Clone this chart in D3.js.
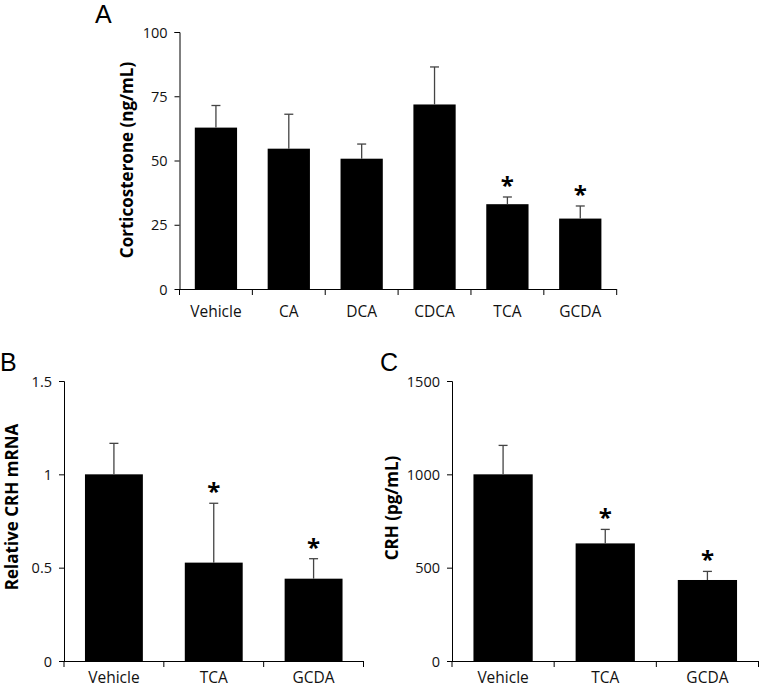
<!DOCTYPE html>
<html><head><meta charset="utf-8">
<script src="https://cdn.jsdelivr.net/npm/d3@7/dist/d3.min.js"></script>
<style>
body{margin:0;background:#fff;}
text{font-family:"Open Sans",sans-serif;}
</style></head>
<body><svg id="c" width="762" height="690"></svg>
<script>
// Panel A
const catsA = ["Vehicle","CA","DCA","CDCA","TCA","GCDA"];
const valsA = [62.8, 54.6, 50.7, 71.8, 33.0, 27.4];
const errA  = [71.4, 68.0, 56.4, 86.4, 35.8, 32.3];
const sigA  = [false,false,false,false,true,true];
const ticksA = [0,25,50,75,100];
// Panel B
const catsB = ["Vehicle","TCA","GCDA"];
const valsB = [1.0, 0.527, 0.441];
const errB  = [1.166, 0.845, 0.548];
const sigB  = [false,true,true];
const ticksB = [0,0.5,1,1.5];
const tickLabelsB = ["0","0.5","1","1.5"];
// Panel C
const catsC = ["Vehicle","TCA","GCDA"];
const valsC = [1000, 630, 434];
const errC  = [1155, 705, 480];
const sigC  = [false,true,true];
const ticksC = [0,500,1000,1500];

const svg = d3.select("#c");

function panel(o){
  const g = svg.append("g");
  const x = d3.scaleBand().domain(o.cats).range([o.x0,o.x1]).paddingInner(0.42).paddingOuter(0.21);
  const y = d3.scaleLinear().domain([0,o.max]).range([o.y0,o.y1]);
  // bars
  g.selectAll("rect.bar").data(o.cats).enter().append("rect")
    .attr("x",d=>x(d)).attr("width",x.bandwidth())
    .attr("y",(d,i)=>y(o.vals[i])).attr("height",(d,i)=>y(0)-y(o.vals[i]))
    .attr("fill","#000");
  // error bars
  o.cats.forEach((c,i)=>{
    const cx = x(c)+x.bandwidth()/2;
    g.append("line").attr("x1",cx).attr("x2",cx).attr("y1",y(o.vals[i])).attr("y2",y(o.err[i]))
      .attr("stroke","#444").attr("stroke-width",1.3);
    g.append("line").attr("x1",cx-4.5).attr("x2",cx+4.5).attr("y1",y(o.err[i])).attr("y2",y(o.err[i]))
      .attr("stroke","#444").attr("stroke-width",1.3);
    if(o.sig[i]){
      g.append("text").attr("x",cx).attr("y",y(o.err[i])-3).attr("text-anchor","middle")
        .attr("font-size",24).attr("font-weight","bold").text("*");
    }
  });
  // y axis
  const ya = d3.axisLeft(y).tickValues(o.ticks).tickSize(5).tickPadding(7)
    .tickFormat((d,i)=>o.tickLabels?o.tickLabels[i]:String(d));
  const yg = g.append("g").attr("transform",`translate(${o.x0},0)`).call(ya);
  yg.selectAll("text").attr("font-size",14.5).attr("fill","#111").attr("dy","0.36em");
  yg.select(".domain").attr("d",`M-5,${o.y1+0.5}H0.5V${o.y0+0.5}`);
  // x axis
  const step = x.step();
  const xb = o.cats.map((c,i)=>o.x0+i*step).concat([o.x1]);
  g.append("line").attr("x1",o.x0).attr("x2",o.x1).attr("y1",o.y0+0.5).attr("y2",o.y0+0.5).attr("stroke","#000");
  g.selectAll("line.xt").data(xb).enter().append("line")
    .attr("x1",d=>d).attr("x2",d=>d).attr("y1",o.y0).attr("y2",o.y0+6).attr("stroke","#000");
  g.selectAll("text.xl").data(o.cats).enter().append("text")
    .attr("x",d=>x(d)+x.bandwidth()/2).attr("y",o.y0+o.lab).attr("text-anchor","middle")
    .attr("font-size",15.5).attr("fill","#111").text(d=>d);
  // y title
  g.append("text").attr("transform",`translate(${o.tx},${o.ty}) rotate(-90)`)
    .attr("text-anchor","middle").attr("font-size",17).attr("font-weight","bold").text(o.title);
  // panel letter
  g.append("text").attr("x",o.lx).attr("y",o.ly)
    .style("font-family","'Liberation Sans', Arial, sans-serif").attr("font-size",25).text(o.letter);
}

panel({cats:catsA,vals:valsA,err:errA,sig:sigA,ticks:ticksA,max:100,lab:27.5,
  x0:179.5,x1:616.7,y0:289,y1:32,title:"Corticosterone (ng/mL)",tx:133,ty:160,letter:"A",lx:95,ly:23});
panel({cats:catsB,vals:valsB,err:errB,sig:sigB,ticks:ticksB,tickLabels:tickLabelsB,max:1.5,lab:22,
  x0:64,x1:363.5,y0:661,y1:381,title:"Relative CRH mRNA",tx:18,ty:507,letter:"B",lx:0,ly:371});
panel({cats:catsC,vals:valsC,err:errC,sig:sigC,ticks:ticksC,max:1500,lab:22,
  x0:452,x1:758.5,y0:661,y1:381,title:"CRH (pg/mL)",tx:398,ty:508,letter:"C",lx:380,ly:371});
</script></body></html>
